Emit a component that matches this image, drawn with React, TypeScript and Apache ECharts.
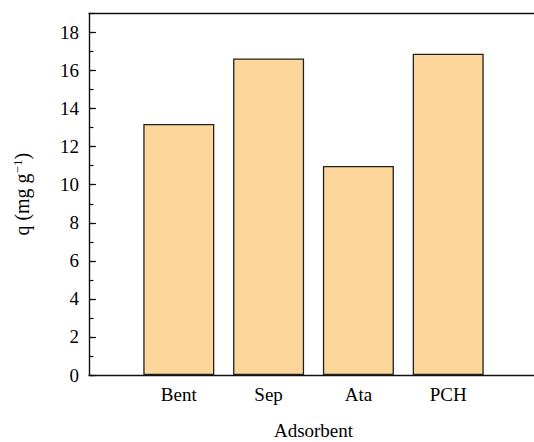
import React, { useEffect, useRef } from "react";
import * as echarts from "echarts";

const categories = ["Bent", "Sep", "Ata", "PCH"];
const values = [13.19, 16.64, 10.99, 16.89];
const yTicks = [0, 2, 4, 6, 8, 10, 12, 14, 16, 18];

export default function App() {
  const ref = useRef<HTMLDivElement>(null);
  useEffect(() => {
    document.body.style.margin = "0";
    const chart = echarts.init(ref.current!, null, { renderer: "svg" });
    const font = "'Liberation Serif', 'DejaVu Serif', serif";
    chart.setOption({
      animation: false,
      textStyle: { fontFamily: font },
      grid: {
        left: 89,
        top: 13.5,
        bottom: 67,
        right: -4,
        outerBoundsMode: "none",
        containLabel: false,
        show: false,
      },
      xAxis: [
        {
          type: "value",
          min: 0,
          max: categories.length + 1,
          interval: 1,
          position: "bottom",
          name: "Adsorbent",
          nameLocation: "middle",
          nameGap: 46,
          nameTextStyle: { fontSize: 19, color: "#000", fontFamily: font },
          axisLine: { show: true, onZero: false, lineStyle: { color: "#111", width: 1.4 } },
          axisTick: { show: false },
          splitLine: { show: false },
          axisLabel: {
            fontSize: 19,
            color: "#000",
            fontFamily: font,
            margin: 10,
            formatter: (v: number) => categories[v - 1] ?? "",
          },
        },
        {
          type: "value",
          min: 0,
          max: categories.length + 1,
          position: "top",
          axisLine: { show: true, onZero: false, lineStyle: { color: "#111", width: 1.4 } },
          axisTick: { show: false },
          axisLabel: { show: false },
          splitLine: { show: false },
        },
      ],
      yAxis: [
        {
          type: "value",
          min: 0,
          max: 19,
          interval: 2,
          position: "left",
          name: "{a|q (mg g}{s|−1}{a|)}",
          nameLocation: "middle",
          nameGap: 56,
          nameRotate: 90,
          nameTextStyle: {
            fontFamily: font,
            rich: {
              a: { fontSize: 20, color: "#000", fontFamily: font },
              s: { fontSize: 13, color: "#000", fontFamily: font, verticalAlign: "top", padding: [0, 0, 9, 0] },
            },
          },
          axisLine: { show: true, onZero: false, lineStyle: { color: "#111", width: 1.4 } },
          axisTick: { show: true, inside: true, length: 7, lineStyle: { color: "#111", width: 1.2 } },
          splitLine: { show: false },
          axisLabel: {
            fontSize: 19,
            color: "#000",
            fontFamily: font,
            margin: 10,
            showMaxLabel: false,
            formatter: (v: number) => (yTicks.includes(v) ? String(v) : ""),
          },
        },
        {
          type: "value",
          min: 0,
          max: 19,
          interval: 1,
          position: "left",
          axisLine: { show: false, onZero: false },
          axisTick: { show: true, inside: true, length: 4.5, lineStyle: { color: "#111", width: 1.2 } },
          axisLabel: { show: false },
          splitLine: { show: false },
        },
      ],
      series: [
        {
          type: "bar",
          xAxisIndex: 0,
          yAxisIndex: 0,
          barWidth: 71,
          data: categories.map((c, i) => [i + 1, values[i]]),
          itemStyle: { color: "#FDD69C", borderColor: "#222", borderWidth: 1.3 },
        },
      ],
    });
    return () => chart.dispose();
  }, []);
  return <div ref={ref} style={{ width: 534, height: 442 }} />;
}
